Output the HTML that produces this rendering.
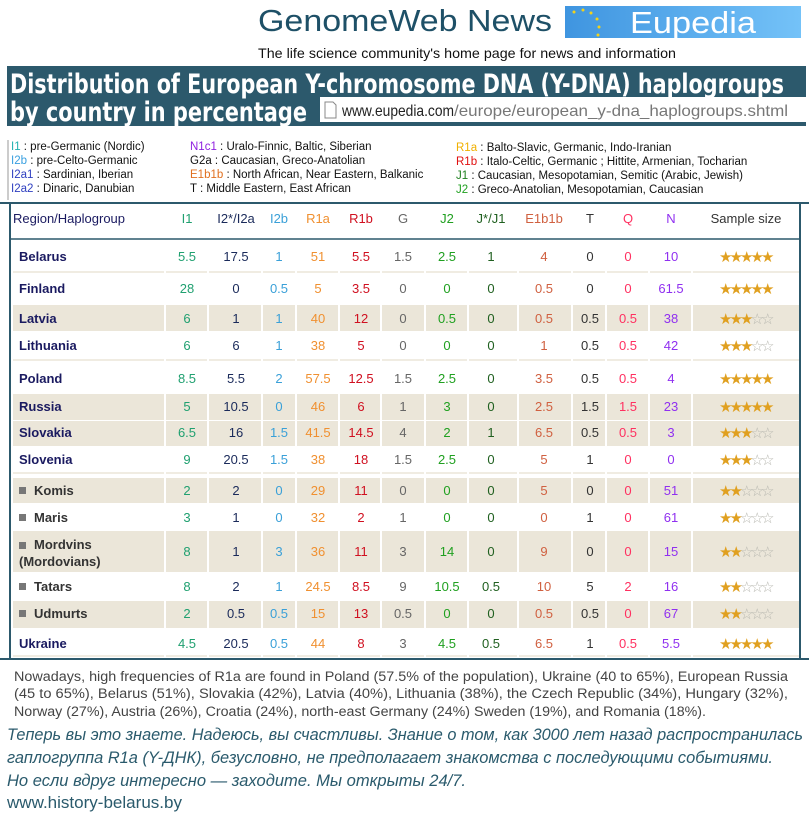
<!DOCTYPE html>
<html><head><meta charset="utf-8"><style>
html,body{margin:0;padding:0;background:#fff;width:809px;height:817px;overflow:hidden}
svg{display:block}
text{font-family:"Liberation Sans Narrow","Liberation Sans",sans-serif}
.c0{fill:#20a070}.c1{fill:#1a2a5a}.c2{fill:#3aa0d8}.c3{fill:#f09030}.c4{fill:#d01020}.c5{fill:#666}.c6{fill:#20a020}.c7{fill:#206020}.c8{fill:#d06040}.c9{fill:#333}.c10{fill:#ff3060}.c11{fill:#9030f0}
.s{fill:#e0a020;font-family:"DejaVu Sans",sans-serif;font-size:15px}.e{fill:#b8b8b0;font-family:"DejaVu Sans",sans-serif;font-size:15px}
</style></head><body>
<svg width="809" height="817" viewBox="0 0 809 817" xmlns="http://www.w3.org/2000/svg">
<defs>
<linearGradient id="eg" x1="0" x2="1"><stop offset="0" stop-color="#3f95e0"/><stop offset="1" stop-color="#74c2f8"/></linearGradient>
<g id="s5"><text class="s" x="0">★</text><text class="s" x="10.5">★</text><text class="s" x="21">★</text><text class="s" x="31.5">★</text><text class="s" x="42">★</text></g>
<g id="s3"><text class="s" x="0">★</text><text class="s" x="10.5">★</text><text class="s" x="21">★</text><text class="e" x="31.5">☆</text><text class="e" x="42">☆</text></g>
<g id="s2"><text class="s" x="0">★</text><text class="s" x="10.5">★</text><text class="e" x="21">☆</text><text class="e" x="31.5">☆</text><text class="e" x="42">☆</text></g>
</defs>
<text x="258" y="31" font-size="31" fill="#1e5067" textLength="294" lengthAdjust="spacingAndGlyphs" style="font-family:'Liberation Sans',sans-serif">GenomeWeb News</text>
<rect x="565" y="6" width="236" height="32" fill="url(#eg)"/>
<g fill="#f2d21a"><circle cx="574" cy="12" r="1.5"/><circle cx="583" cy="10" r="1.5"/><circle cx="591" cy="13" r="1.5"/><circle cx="597" cy="19" r="1.5"/><circle cx="599" cy="27" r="1.5"/><circle cx="598" cy="35" r="1.5"/></g>
<text x="630" y="33" font-size="31" fill="#fff" textLength="126" lengthAdjust="spacingAndGlyphs" style="font-family:'Liberation Sans',sans-serif">Eupedia</text>
<text x="258" y="58" font-size="14" fill="#111" textLength="418" lengthAdjust="spacingAndGlyphs">The life science community's home page for news and information</text>
<rect x="7" y="66" width="799" height="60" fill="#2c596c"/>
<text x="10" y="93" font-size="27" font-weight="bold" fill="#fff" textLength="774" lengthAdjust="spacingAndGlyphs" style="font-family:'DejaVu Sans',sans-serif">Distribution of European Y-chromosome DNA (Y-DNA) haplogroups</text>
<text x="10" y="121" font-size="27" font-weight="bold" fill="#fff" textLength="297" lengthAdjust="spacingAndGlyphs" style="font-family:'DejaVu Sans',sans-serif">by country in percentage</text>
<rect x="320" y="97" width="486" height="25" fill="#fff"/>
<path d="M325 102h8l3 3v13h-11z" fill="#fff" stroke="#888"/>
<text x="342" y="116" font-size="16" fill="#222" textLength="112" lengthAdjust="spacingAndGlyphs">www.eupedia.com</text>
<text x="454" y="116" font-size="16" fill="#777" textLength="334" lengthAdjust="spacingAndGlyphs">/europe/european_y-dna_haplogroups.shtml</text>
<line x1="8" y1="140" x2="8" y2="200" stroke="#999"/>
<g font-size="11.5" fill="#111">
<text x="11" y="150"><tspan fill="#20b0b0">I1</tspan> : pre-Germanic (Nordic)</text>
<text x="11" y="164"><tspan fill="#3aa0e0">I2b</tspan> : pre-Celto-Germanic</text>
<text x="11" y="178"><tspan fill="#3040c0">I2a1</tspan> : Sardinian, Iberian</text>
<text x="11" y="192"><tspan fill="#3040c0">I2a2</tspan> : Dinaric, Danubian</text>
<text x="190" y="150"><tspan fill="#9020e0">N1c1</tspan> : Uralo-Finnic, Baltic, Siberian</text>
<text x="190" y="164">G2a : Caucasian, Greco-Anatolian</text>
<text x="190" y="178"><tspan fill="#e07020">E1b1b</tspan> : North African, Near Eastern, Balkanic</text>
<text x="190" y="192">T : Middle Eastern, East African</text>
<text x="456" y="151"><tspan fill="#f0b000">R1a</tspan> : Balto-Slavic, Germanic, Indo-Iranian</text>
<text x="456" y="165"><tspan fill="#e01010">R1b</tspan> : Italo-Celtic, Germanic ; Hittite, Armenian, Tocharian</text>
<text x="456" y="179"><tspan fill="#208020">J1</tspan> : Caucasian, Mesopotamian, Semitic (Arabic, Jewish)</text>
<text x="456" y="193"><tspan fill="#20a020">J2</tspan> : Greco-Anatolian, Mesopotamian, Caucasian</text>
</g>
<line x1="0" y1="203" x2="809" y2="203" stroke="#2c596c" stroke-width="2"/>
<line x1="10" y1="203" x2="10" y2="659" stroke="#2c596c" stroke-width="2"/>
<line x1="800" y1="203" x2="800" y2="659" stroke="#2c596c" stroke-width="2"/>
<line x1="10" y1="239" x2="800" y2="239" stroke="#2c596c" stroke-width="1.5"/>
<line x1="0" y1="659" x2="809" y2="659" stroke="#2c596c" stroke-width="2"/>
<g fill="#ebe6d9">
<rect x="13" y="305" width="786" height="26"/>
<rect x="13" y="394" width="786" height="26"/>
<rect x="13" y="421" width="786" height="25"/>
<rect x="13" y="478" width="786" height="25"/>
<rect x="13" y="531" width="786" height="41"/>
<rect x="13" y="601" width="786" height="27"/>
</g>
<g stroke="#ebe6d9" stroke-width="1.5">
<line x1="13" y1="272" x2="799" y2="272"/><line x1="13" y1="360" x2="799" y2="360"/><line x1="13" y1="473" x2="799" y2="473"/><line x1="13" y1="656" x2="799" y2="656"/>
</g>
<g stroke="#fff" stroke-width="2">
<line x1="165" y1="240" x2="165" y2="658"/><line x1="208" y1="240" x2="208" y2="658"/><line x1="262" y1="240" x2="262" y2="658"/><line x1="296" y1="240" x2="296" y2="658"/><line x1="339" y1="240" x2="339" y2="658"/><line x1="381" y1="240" x2="381" y2="658"/><line x1="425" y1="240" x2="425" y2="658"/><line x1="468" y1="240" x2="468" y2="658"/><line x1="518" y1="240" x2="518" y2="658"/><line x1="572" y1="240" x2="572" y2="658"/><line x1="606" y1="240" x2="606" y2="658"/><line x1="649" y1="240" x2="649" y2="658"/><line x1="692" y1="240" x2="692" y2="658"/>
</g>
<g font-size="13" text-anchor="middle">
<text x="69" y="223" fill="#1a1a60">Region/Haplogroup</text>
<text x="187" y="223" class="c0">I1</text><text x="236" y="223" class="c1">I2*/I2a</text><text x="279" y="223" class="c2">I2b</text><text x="318" y="223" class="c3">R1a</text><text x="361" y="223" class="c4">R1b</text><text x="403" y="223" class="c5">G</text><text x="447" y="223" class="c6">J2</text><text x="491" y="223" class="c7">J*/J1</text><text x="544" y="223" class="c8">E1b1b</text><text x="590" y="223" class="c9">T</text><text x="628" y="223" class="c10">Q</text><text x="671" y="223" class="c11">N</text>
<text x="746" y="223" fill="#333">Sample size</text>
</g>
<g font-size="13" font-weight="bold" fill="#1a1a60">
<text x="19" y="261">Belarus</text><text x="19" y="293">Finland</text><text x="19" y="323">Latvia</text><text x="19" y="350">Lithuania</text><text x="19" y="383">Poland</text><text x="19" y="411">Russia</text><text x="19" y="437">Slovakia</text><text x="19" y="464">Slovenia</text><text x="19" y="648">Ukraine</text>
</g>
<g font-size="13" font-weight="bold" fill="#333">
<rect x="19" y="487" width="7" height="7" fill="#777"/><text x="34" y="495">Komis</text>
<rect x="19" y="514" width="7" height="7" fill="#777"/><text x="34" y="522">Maris</text>
<rect x="19" y="542" width="7" height="7" fill="#777"/><text x="34" y="549">Mordvins</text><text x="19" y="566">(Mordovians)</text>
<rect x="19" y="583" width="7" height="7" fill="#777"/><text x="34" y="591">Tatars</text>
<rect x="19" y="610" width="7" height="7" fill="#777"/><text x="34" y="618">Udmurts</text>
</g>
<g font-size="13" text-anchor="middle">
<g transform="translate(0,261)"><text x="187" class="c0">5.5</text><text x="236" class="c1">17.5</text><text x="279" class="c2">1</text><text x="318" class="c3">51</text><text x="361" class="c4">5.5</text><text x="403" class="c5">1.5</text><text x="447" class="c6">2.5</text><text x="491" class="c7">1</text><text x="544" class="c8">4</text><text x="590" class="c9">0</text><text x="628" class="c10">0</text><text x="671" class="c11">10</text></g>
<g transform="translate(0,293)"><text x="187" class="c0">28</text><text x="236" class="c1">0</text><text x="279" class="c2">0.5</text><text x="318" class="c3">5</text><text x="361" class="c4">3.5</text><text x="403" class="c5">0</text><text x="447" class="c6">0</text><text x="491" class="c7">0</text><text x="544" class="c8">0.5</text><text x="590" class="c9">0</text><text x="628" class="c10">0</text><text x="671" class="c11">61.5</text></g>
<g transform="translate(0,323)"><text x="187" class="c0">6</text><text x="236" class="c1">1</text><text x="279" class="c2">1</text><text x="318" class="c3">40</text><text x="361" class="c4">12</text><text x="403" class="c5">0</text><text x="447" class="c6">0.5</text><text x="491" class="c7">0</text><text x="544" class="c8">0.5</text><text x="590" class="c9">0.5</text><text x="628" class="c10">0.5</text><text x="671" class="c11">38</text></g>
<g transform="translate(0,350)"><text x="187" class="c0">6</text><text x="236" class="c1">6</text><text x="279" class="c2">1</text><text x="318" class="c3">38</text><text x="361" class="c4">5</text><text x="403" class="c5">0</text><text x="447" class="c6">0</text><text x="491" class="c7">0</text><text x="544" class="c8">1</text><text x="590" class="c9">0.5</text><text x="628" class="c10">0.5</text><text x="671" class="c11">42</text></g>
<g transform="translate(0,383)"><text x="187" class="c0">8.5</text><text x="236" class="c1">5.5</text><text x="279" class="c2">2</text><text x="318" class="c3">57.5</text><text x="361" class="c4">12.5</text><text x="403" class="c5">1.5</text><text x="447" class="c6">2.5</text><text x="491" class="c7">0</text><text x="544" class="c8">3.5</text><text x="590" class="c9">0.5</text><text x="628" class="c10">0.5</text><text x="671" class="c11">4</text></g>
<g transform="translate(0,411)"><text x="187" class="c0">5</text><text x="236" class="c1">10.5</text><text x="279" class="c2">0</text><text x="318" class="c3">46</text><text x="361" class="c4">6</text><text x="403" class="c5">1</text><text x="447" class="c6">3</text><text x="491" class="c7">0</text><text x="544" class="c8">2.5</text><text x="590" class="c9">1.5</text><text x="628" class="c10">1.5</text><text x="671" class="c11">23</text></g>
<g transform="translate(0,437)"><text x="187" class="c0">6.5</text><text x="236" class="c1">16</text><text x="279" class="c2">1.5</text><text x="318" class="c3">41.5</text><text x="361" class="c4">14.5</text><text x="403" class="c5">4</text><text x="447" class="c6">2</text><text x="491" class="c7">1</text><text x="544" class="c8">6.5</text><text x="590" class="c9">0.5</text><text x="628" class="c10">0.5</text><text x="671" class="c11">3</text></g>
<g transform="translate(0,464)"><text x="187" class="c0">9</text><text x="236" class="c1">20.5</text><text x="279" class="c2">1.5</text><text x="318" class="c3">38</text><text x="361" class="c4">18</text><text x="403" class="c5">1.5</text><text x="447" class="c6">2.5</text><text x="491" class="c7">0</text><text x="544" class="c8">5</text><text x="590" class="c9">1</text><text x="628" class="c10">0</text><text x="671" class="c11">0</text></g>
<g transform="translate(0,495)"><text x="187" class="c0">2</text><text x="236" class="c1">2</text><text x="279" class="c2">0</text><text x="318" class="c3">29</text><text x="361" class="c4">11</text><text x="403" class="c5">0</text><text x="447" class="c6">0</text><text x="491" class="c7">0</text><text x="544" class="c8">5</text><text x="590" class="c9">0</text><text x="628" class="c10">0</text><text x="671" class="c11">51</text></g>
<g transform="translate(0,522)"><text x="187" class="c0">3</text><text x="236" class="c1">1</text><text x="279" class="c2">0</text><text x="318" class="c3">32</text><text x="361" class="c4">2</text><text x="403" class="c5">1</text><text x="447" class="c6">0</text><text x="491" class="c7">0</text><text x="544" class="c8">0</text><text x="590" class="c9">1</text><text x="628" class="c10">0</text><text x="671" class="c11">61</text></g>
<g transform="translate(0,556)"><text x="187" class="c0">8</text><text x="236" class="c1">1</text><text x="279" class="c2">3</text><text x="318" class="c3">36</text><text x="361" class="c4">11</text><text x="403" class="c5">3</text><text x="447" class="c6">14</text><text x="491" class="c7">0</text><text x="544" class="c8">9</text><text x="590" class="c9">0</text><text x="628" class="c10">0</text><text x="671" class="c11">15</text></g>
<g transform="translate(0,591)"><text x="187" class="c0">8</text><text x="236" class="c1">2</text><text x="279" class="c2">1</text><text x="318" class="c3">24.5</text><text x="361" class="c4">8.5</text><text x="403" class="c5">9</text><text x="447" class="c6">10.5</text><text x="491" class="c7">0.5</text><text x="544" class="c8">10</text><text x="590" class="c9">5</text><text x="628" class="c10">2</text><text x="671" class="c11">16</text></g>
<g transform="translate(0,618)"><text x="187" class="c0">2</text><text x="236" class="c1">0.5</text><text x="279" class="c2">0.5</text><text x="318" class="c3">15</text><text x="361" class="c4">13</text><text x="403" class="c5">0.5</text><text x="447" class="c6">0</text><text x="491" class="c7">0</text><text x="544" class="c8">0.5</text><text x="590" class="c9">0.5</text><text x="628" class="c10">0</text><text x="671" class="c11">67</text></g>
<g transform="translate(0,648)"><text x="187" class="c0">4.5</text><text x="236" class="c1">20.5</text><text x="279" class="c2">0.5</text><text x="318" class="c3">44</text><text x="361" class="c4">8</text><text x="403" class="c5">3</text><text x="447" class="c6">4.5</text><text x="491" class="c7">0.5</text><text x="544" class="c8">6.5</text><text x="590" class="c9">1</text><text x="628" class="c10">0.5</text><text x="671" class="c11">5.5</text></g>
</g>
<g>
<use href="#s5" x="719" y="262"/><use href="#s5" x="719" y="294"/><use href="#s3" x="719" y="324"/><use href="#s3" x="719" y="351"/><use href="#s5" x="719" y="384"/><use href="#s5" x="719" y="412"/><use href="#s3" x="719" y="438"/><use href="#s3" x="719" y="465"/><use href="#s2" x="719" y="496"/><use href="#s2" x="719" y="523"/><use href="#s2" x="719" y="557"/><use href="#s2" x="719" y="592"/><use href="#s2" x="719" y="619"/><use href="#s5" x="719" y="649"/>
</g>
<g font-size="13.5" fill="#444">
<text x="14" y="681" textLength="774" lengthAdjust="spacingAndGlyphs">Nowadays, high frequencies of R1a are found in Poland (57.5% of the population), Ukraine (40 to 65%), European Russia</text>
<text x="14" y="698" textLength="774" lengthAdjust="spacingAndGlyphs">(45 to 65%), Belarus (51%), Slovakia (42%), Latvia (40%), Lithuania (38%), the Czech Republic (34%), Hungary (32%),</text>
<text x="14" y="716" textLength="692" lengthAdjust="spacingAndGlyphs">Norway (27%), Austria (26%), Croatia (24%), north-east Germany (24%) Sweden (19%), and Romania (18%).</text>
</g>
<g font-size="16.5" font-style="italic" fill="#2a5a6c">
<text x="7" y="740" textLength="796" lengthAdjust="spacingAndGlyphs">Теперь вы это знаете. Надеюсь, вы счастливы. Знание о том, как 3000 лет назад распространилась</text>
<text x="7" y="763" textLength="766" lengthAdjust="spacingAndGlyphs">гаплогруппа R1a (Y-ДНК), безусловно, не предполагает знакомства с последующими событиями.</text>
<text x="7" y="786" textLength="459" lengthAdjust="spacingAndGlyphs">Но если вдруг интересно — заходите. Мы открыты 24/7.</text>
</g>
<text x="7" y="808" font-size="16.5" fill="#2a5a6c" textLength="175" lengthAdjust="spacingAndGlyphs">www.history-belarus.by</text>
</svg>
</body></html>
